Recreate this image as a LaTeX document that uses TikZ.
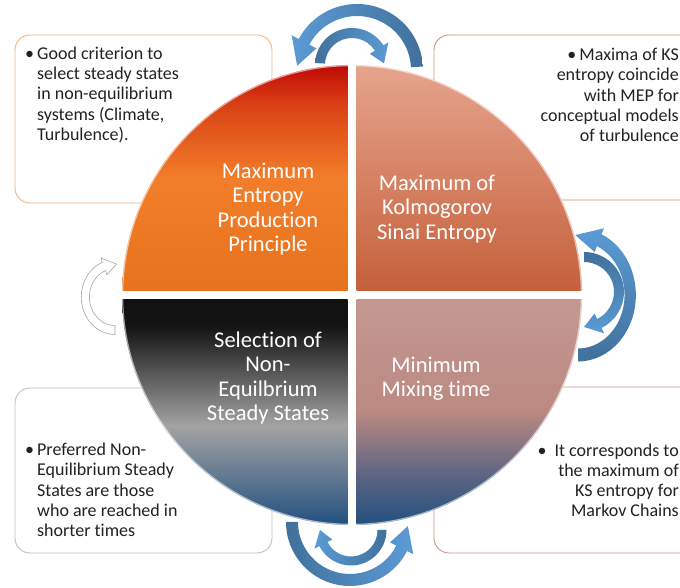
\documentclass[tikz,border=0pt]{standalone}
\usepackage{fontspec}
\setmainfont{Carlito}[Ligatures=NoCommon]
\usetikzlibrary{positioning}

\definecolor{arrowlight}{HTML}{5B9BD5}
\definecolor{arrowdark}{HTML}{41719C}
\definecolor{textgray}{HTML}{222222}
\definecolor{mepborder}{HTML}{F4B183}
\definecolor{kseborder}{HTML}{D98B72}
\definecolor{nessborder}{HTML}{BFBFBF}
\definecolor{mixborder}{HTML}{C9958B}
\definecolor{loopgray}{HTML}{A6A6A6}
\definecolor{mepbottom}{HTML}{E8731E}
\definecolor{mepmid}{HTML}{F27D2A}
\definecolor{mepupper}{HTML}{DA4215}
\definecolor{meptop}{HTML}{C00A06}
\definecolor{ksebottom}{HTML}{C5603B}
\definecolor{ksetop}{HTML}{E6A48D}
\definecolor{nessbottom}{HTML}{22507F}
\definecolor{nessmid}{HTML}{A3A3A3}
\definecolor{nessupper}{HTML}{141414}
\definecolor{nesstop}{HTML}{101010}
\definecolor{mixbottom}{HTML}{23507F}
\definecolor{mixlower}{HTML}{5C6483}
\definecolor{mixmid}{HTML}{BA8982}
\definecolor{mixtop}{HTML}{C49891}

% shadings of the four quadrants (path spans 25bp to 75bp)
\pgfdeclareverticalshading{mepshade}{100bp}{color(0bp)=(mepbottom); color(25bp)=(mepbottom);
  color(50bp)=(mepmid); color(66bp)=(mepupper); color(75bp)=(meptop); color(100bp)=(meptop)}
\pgfdeclareverticalshading{kseshade}{100bp}{color(0bp)=(ksebottom); color(25bp)=(ksebottom);
  color(75bp)=(ksetop); color(100bp)=(ksetop)}
\pgfdeclareverticalshading{nessshade}{100bp}{color(0bp)=(nessbottom); color(25bp)=(nessbottom);
  color(47bp)=(nessmid); color(69bp)=(nessupper); color(75bp)=(nesstop); color(100bp)=(nesstop)}
\pgfdeclareverticalshading{mixshade}{100bp}{color(0bp)=(mixbottom); color(25bp)=(mixbottom);
  color(36bp)=(mixlower); color(50bp)=(mixmid); color(75bp)=(mixtop); color(100bp)=(mixtop)}

% block arrow along an arc: [options]{centre}{radius}{half width}{tail angle}{neck angle}{tip angle}{head half width}
\newcommand{\blockarc}[8][]{%
  \path[shift={#2}, #1] (#5:#3+#4) arc[start angle=#5, end angle=#6, radius=#3+#4]
    -- (#6:#3+#8) -- (#7:#3) -- (#6:#3-#8) -- (#6:#3-#4)
    arc[start angle=#6, end angle=#5, radius=#3-#4] -- cycle;}

\begin{document}
\begin{tikzpicture}[x=1pt,y=1pt,
  boxtext/.style={inner sep=0pt, text=textgray, font=\fontsize{18}{20.2}\selectfont},
  quadtext/.style={inner sep=0pt, align=center, text=white, font=\fontsize{22.5}{24.6}\selectfont},
  infobox/.style={line width=0.9pt, rounded corners=15pt, fill=white},
  headleft/.style={left color=arrowlight, right color=arrowdark},
  headright/.style={left color=arrowdark, right color=arrowlight},
  headtop/.style={top color=arrowlight, bottom color=arrowdark},
  headbottom/.style={top color=arrowdark, bottom color=arrowlight}]
\useasboundingbox (0,0) rectangle (680,588);

%Boxes behind the circle
\draw[infobox, draw=mepborder] (15,553) rectangle (272,385);
\draw[infobox, draw=kseborder] (434,553) rectangle (700,388);
\draw[infobox, draw=nessborder] (15,200) rectangle (272,35);
\draw[infobox, draw=mixborder] (434,201) rectangle (700,35);

%Quadrants of the circle
\begin{scope}
\clip (352,293) circle (230);
\shade[shading=mepshade] (122,297.5) rectangle (347.5,523);
\shade[shading=kseshade] (356.5,297.5) rectangle (582,523);
\shade[shading=nessshade] (122,63) rectangle (347.5,288.5);
\shade[shading=mixshade] (356.5,63) rectangle (582,288.5);
\end{scope}
\draw[white, opacity=0.6, line width=1.2pt] (352,293) circle (229.4);

%Labels in the circle
\node[quadtext] (mepp) at (268,379) {Maximum\\Entropy\\Production\\Principle};
\node[quadtext] (kse) at (437,379) {Maximum of\\Kolmogorov\\Sinai Entropy};
\node[quadtext] (ness) at (268,210) {Selection of\\Non-\\Equilbrium\\Steady States};
\node[quadtext] (mixing) at (436,209.5) {Minimum\\Mixing time};

%Texts in the boxes
\node[boxtext, anchor=west, align=left] (mepptext) at (37,493)
  {\llap{\textbullet\hspace{3pt}}Good criterion to\\select steady states\\in non-equilibrium\\systems (Climate,\\Turbulence).};
\node[boxtext, anchor=east, align=right] (ksetext) at (679,493)
  {\textbullet\hspace{3pt}Maxima of KS\\entropy coincide\\with MEP for\\conceptual models\\of turbulence};
\node[boxtext, anchor=west, align=left] (nesstext) at (37,98)
  {\llap{\textbullet\hspace{3pt}}Preferred Non-\\Equilibrium Steady\\States are those\\who are reached in\\shorter times};
\node[boxtext, anchor=east, align=right] (mixingtext) at (679,107.5)
  {\textbullet\hspace{8pt}It corresponds to\\the maximum of\\KS entropy for\\Markov Chains};

%Cycling arrows
\blockarc[headleft]{(357,518)}{60}{6}{3}{152}{176}{14}
\blockarc[headright]{(352,523)}{32}{5}{177}{32}{3}{11}
\blockarc[headtop, xscale=0.87]{(578,293)}{60}{6.5}{-90}{66}{93}{13}
\blockarc[headbottom]{(584,296)}{35}{5}{90}{-64}{-90}{11}
\blockarc[headright]{(350,66)}{58}{6}{180}{333}{356}{13}
\blockarc[headleft]{(351,58)}{31}{4.5}{0}{-153}{-180}{10}
\blockarc[fill=white, draw=loopgray, line width=0.6pt, xscale=0.9]{(115,291)}{33}{4.5}{-90}{-248}{-273}{9}

\end{tikzpicture}
\end{document}
